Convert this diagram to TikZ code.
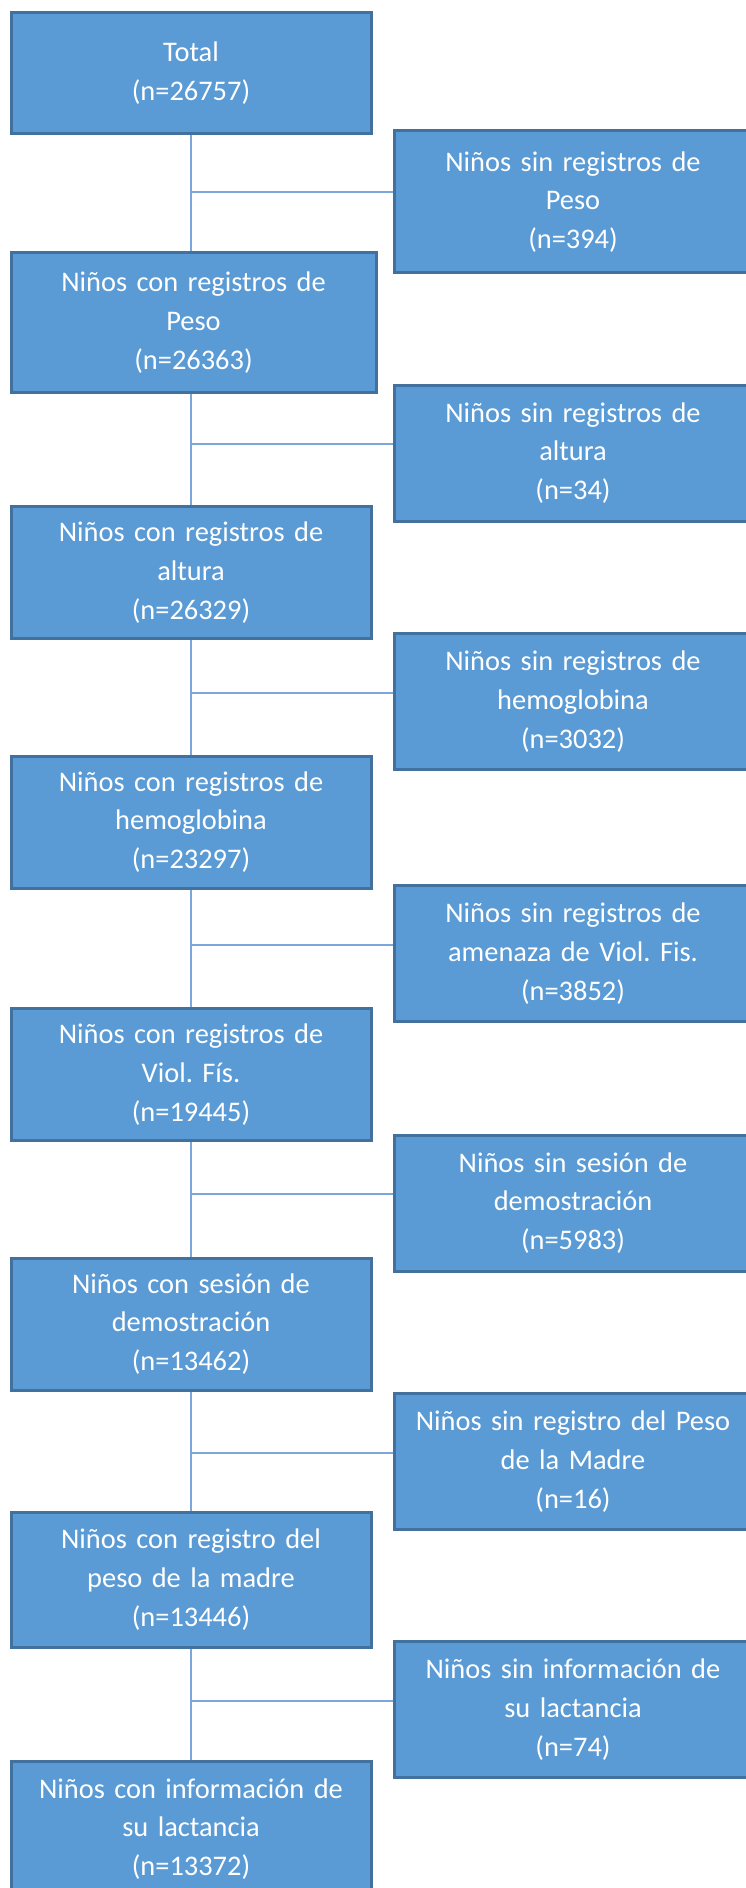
\documentclass[tikz,border=0pt]{standalone}
\usepackage{fontspec}
\setmainfont{Carlito}
\usepackage{xcolor}
\usepackage{tikz}

\definecolor{boxfill}{HTML}{5B9BD5}
\definecolor{boxedge}{HTML}{41719C}
\definecolor{linkblue}{RGB}{124,167,218}

\begin{document}
\frenchspacing
\begin{tikzpicture}[
    x=0.5pt, y=-0.5pt,
    lbox/.style={rectangle, draw=boxedge, line width=1.5pt, fill=boxfill, text=white, minimum width=180pt, minimum height=66pt, text width=180pt, align=center, inner sep=0pt, font=\fontsize{14.2}{19.4}\selectfont},
    rbox/.style={lbox, minimum width=179pt, text width=179pt, minimum height=68pt},
    link/.style={draw=linkblue, line width=1pt}
]
\useasboundingbox (0,0) rectangle (745,1888);

% Included children
\node[lbox, minimum height=60.5pt] (l1) at (191,73.5) {Total\\(n=26757)};
\node[lbox, minimum height=69.5pt, minimum width=182.5pt] (l2) at (193.5,322.5) {Niños con registros de\\Peso\\(n=26363)};
\node[lbox] (l3) at (191,572.5) {Niños con registros de\\altura\\(n=26329)};
\node[lbox] (l4) at (191,822) {Niños con registros de\\hemoglobina\\(n=23297)};
\node[lbox] (l5) at (191,1074.5) {Niños con registros de\\Viol. Fís.\\(n=19445)};
\node[lbox] (l6) at (191,1324) {Niños con sesión de\\demostración\\(n=13462)};
\node[lbox, minimum height=67.5pt] (l7) at (191,1579.5) {Niños con registro del\\peso de la madre\\(n=13446)};
\node[lbox, minimum height=68pt] (l8) at (191,1829) {Niños con información de\\su lactancia\\(n=13372)};

% Excluded children
\node[rbox, minimum height=71pt] (r1) at (573,202) {Niños sin registros de\\Peso\\(n=394)};
\node[rbox] (r2) at (573,453) {Niños sin registros de\\altura\\(n=34)};
\node[rbox] (r3) at (573,701.5) {Niños sin registros de\\hemoglobina\\(n=3032)};
\node[rbox] (r4) at (573,953.5) {Niños sin registros de\\amenaza de Viol. Fis.\\(n=3852)};
\node[rbox] (r5) at (573,1203) {Niños sin sesión de\\demostración\\(n=5983)};
\node[rbox] (r6) at (573,1461.5) {Niños sin registro del Peso\\de la Madre\\(n=16)};
\node[rbox] (r7) at (573,1709.5) {Niños sin información de\\su lactancia\\(n=74)};

% Junctions
\coordinate (j1) at ([yshift=5pt]r1.west);
\coordinate (j2) at ([yshift=4.5pt]r2.west);
\coordinate (j3) at ([yshift=4.5pt]r3.west);
\coordinate (j4) at ([yshift=4.5pt]r4.west);
\coordinate (j5) at ([yshift=4.5pt]r5.west);
\coordinate (j6) at ([yshift=4.5pt]r6.west);
\coordinate (j7) at ([yshift=4.5pt]r7.west);

% Lines
\draw[link] (l1.south) -- (l1.south |- l2.north);
\draw[link] (l1.south |- l2.south) -- (l3.north);
\draw[link] (l3.south) -- (l4.north);
\draw[link] (l4.south) -- (l5.north);
\draw[link] (l5.south) -- (l6.north);
\draw[link] (l6.south) -- (l7.north);
\draw[link] (l7.south) -- (l8.north);

\draw[link] (l1.south |- j1) -- (j1);
\draw[link] (l1.south |- j2) -- (j2);
\draw[link] (l3.south |- j3) -- (j3);
\draw[link] (l4.south |- j4) -- (j4);
\draw[link] (l5.south |- j5) -- (j5);
\draw[link] (l6.south |- j6) -- (j6);
\draw[link] (l7.south |- j7) -- (j7);

\end{tikzpicture}
\end{document}
